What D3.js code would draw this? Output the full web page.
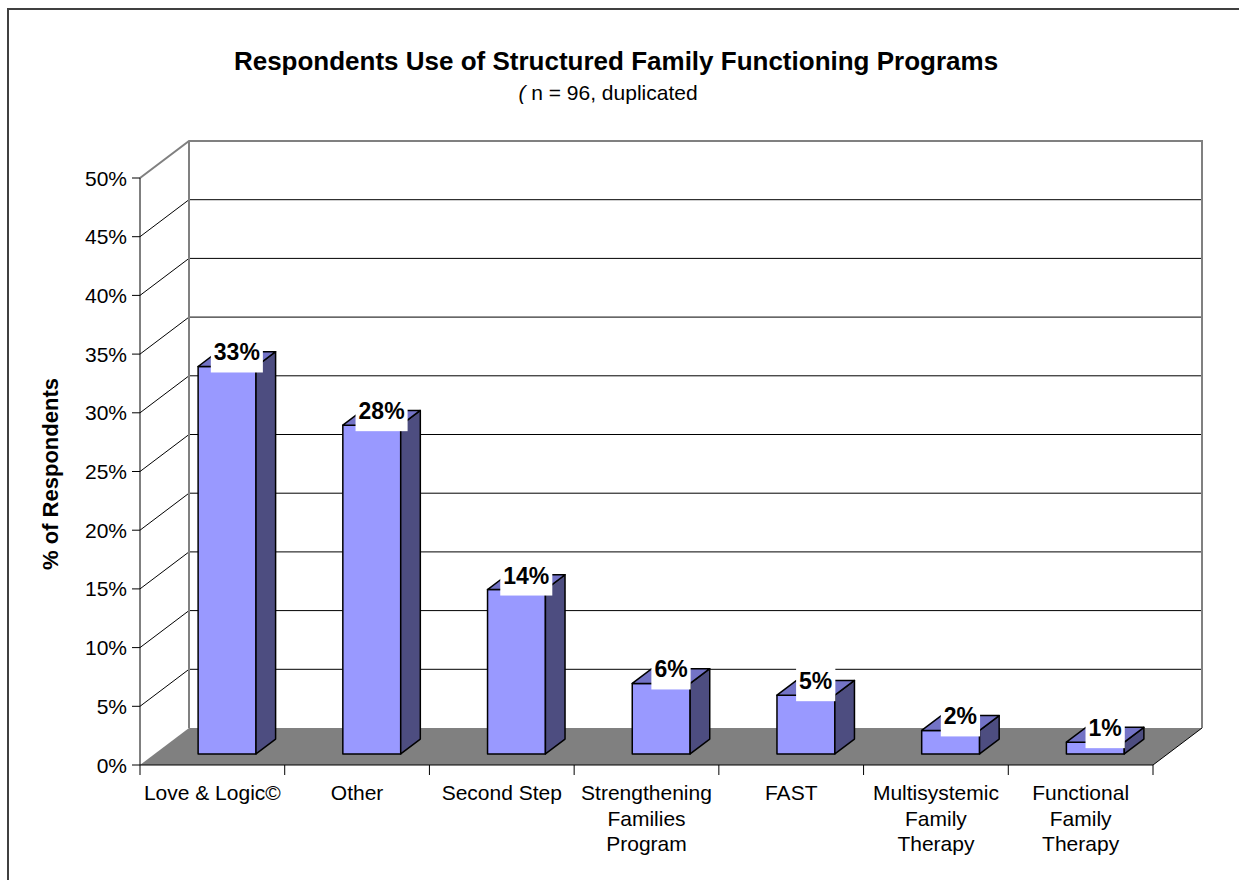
<!DOCTYPE html>
<html lang="en">
<head>
  <meta charset="UTF-8">
  <title>Respondents Use of Structured Family Functioning Programs</title>
  <script src="https://cdn.jsdelivr.net/npm/d3@7"></script>
</head>
<body style="margin:0;background:#fff">
  <style>
    svg { font-family: Arial, "Liberation Sans", sans-serif; }
    .ylab { font-size: 21px; }
    .xlab { font-size: 21px; }
    .val { font-size: 23px; font-weight: bold; }
  </style>
  <svg width="1239" height="880"></svg>
  <script>
    var categories = ["Love & Logic©", "Other", "Second Step", "Strengthening Families Program",
                      "FAST", "Multisystemic Family Therapy", "Functional Family Therapy"];
    var catLines = [["Love & Logic©"], ["Other"], ["Second Step"], ["Strengthening", "Families", "Program"],
                    ["FAST"], ["Multisystemic", "Family", "Therapy"], ["Functional", "Family", "Therapy"]];
    var values = [33, 28, 14, 6, 5, 2, 1];
    var labels = ["33%", "28%", "14%", "6%", "5%", "2%", "1%"];
    var yTicks = [0, 5, 10, 15, 20, 25, 30, 35, 40, 45, 50];

    var svg = d3.select("svg");

    // outer frame (cropped on right and bottom)
    svg.append("rect")
        .attr("x", 8).attr("y", 9)
        .attr("width", 1400).attr("height", 1000)
        .attr("fill", "none").attr("stroke", "#404040").attr("stroke-width", 2);

    // 3d depth offset
    var DX = 49, DY = -37;
    var x = d3.scaleBand().domain(categories).range([140, 1153]).paddingInner(0.6).paddingOuter(0.3);
    var y = d3.scaleLinear().domain([0, 50]).range([765, 178]);
    var x0 = 140, x1 = 1153;

    function p(xv, v, z) { return [xv + DX * z, y(v) + DY * z]; }
    function poly(pts) { return "M" + pts.map(function(d) { return d.join(","); }).join("L") + "Z"; }

    // floor
    svg.append("path")
        .attr("d", poly([p(x0, 0, 0), p(x1, 0, 0), p(x1, 0, 1), p(x0, 0, 1)]))
        .attr("fill", "#808080");
    svg.append("path")
        .attr("d", "M" + p(x0, 0, 0) + "L" + p(x1, 0, 0) + "L" + p(x1, 0, 1))
        .attr("fill", "none").attr("stroke", "#000").attr("stroke-width", 1);

    // gridlines on side + back wall
    var grid = svg.append("g");
    yTicks.filter(function(t) { return t > 0 && t < 50; }).forEach(function(t) {
      grid.append("path")
          .attr("d", "M" + p(x0, t, 0) + "L" + p(x0, t, 1) + "L" + p(x1, t, 1))
          .attr("fill", "none").attr("stroke", "#000").attr("stroke-width", 1);
    });

    // walls edges
    svg.append("path")
        .attr("d", "M" + p(x0, 50, 0) + "L" + p(x0, 50, 1) + "L" + p(x1, 50, 1) + "L" + p(x1, 0, 1))
        .attr("fill", "none").attr("stroke", "#808080").attr("stroke-width", 2);
    svg.append("path")
        .attr("d", "M" + p(x0, 0, 1) + "L" + p(x0, 50, 1))
        .attr("fill", "none").attr("stroke", "#808080").attr("stroke-width", 2);

    // y axis
    svg.append("line")
        .attr("x1", x0).attr("x2", x0).attr("y1", y(0)).attr("y2", y(50))
        .attr("stroke", "#000");
    var ya = svg.append("g");
    yTicks.forEach(function(t) {
      ya.append("line").attr("x1", x0 - 8).attr("x2", x0)
          .attr("y1", y(t)).attr("y2", y(t)).attr("stroke", "#000");
      ya.append("text").attr("class", "ylab")
          .attr("x", x0 - 13).attr("y", y(t)).attr("dy", "0.36em")
          .attr("text-anchor", "end").text(t + "%");
    });

    // x axis ticks + labels
    var step = x.step();
    d3.range(categories.length + 1).forEach(function(i) {
      svg.append("line").attr("x1", x0 + i * step).attr("x2", x0 + i * step)
          .attr("y1", y(0)).attr("y2", y(0) + 10).attr("stroke", "#000");
    });
    categories.forEach(function(c, i) {
      var cx = x(c) + x.bandwidth() / 2;
      var t = svg.append("text").attr("class", "xlab").attr("text-anchor", "middle");
      catLines[i].forEach(function(l, j) {
        t.append("tspan").attr("x", cx).attr("y", 800 + j * 25.5).text(l);
      });
    });

    // bars
    var z0 = 0.3, z1 = 0.7;
    var bars = svg.append("g");
    categories.forEach(function(c, i) {
      var a = x(c), b = x(c) + x.bandwidth(), v = values[i];
      var g = bars.append("g").attr("stroke", "#000").attr("stroke-width", 1.5).attr("stroke-linejoin", "round");
      g.append("path").attr("fill", "#9999FF")
          .attr("d", poly([p(a, 0, z0), p(b, 0, z0), p(b, v, z0), p(a, v, z0)]));
      g.append("path").attr("fill", "#4D4D80")
          .attr("d", poly([p(b, 0, z0), p(b, 0, z1), p(b, v, z1), p(b, v, z0)]));
      g.append("path").attr("fill", "#7373C6")
          .attr("d", poly([p(a, v, z0), p(b, v, z0), p(b, v, z1), p(a, v, z1)]));
    });

    // value labels
    var lab = svg.append("g");
    categories.forEach(function(c, i) {
      var cx = x(c) + x.bandwidth() / 2 + DX * 0.5;
      var base = p(0, values[i], z0)[1] - 6;
      var box = lab.append("rect").attr("fill", "#fff");
      var t = lab.append("text").attr("class", "val")
          .attr("x", cx).attr("y", base).attr("text-anchor", "middle").text(labels[i]);
      var w = t.node().getComputedTextLength();
      box.attr("x", cx - w / 2 - 3).attr("width", w + 6)
          .attr("y", base - 28).attr("height", 40);
    });

    // titles
    svg.append("text")
        .attr("x", 616).attr("y", 70).attr("text-anchor", "middle")
        .style("font-size", "26px").style("font-weight", "bold")
        .text("Respondents Use of Structured Family Functioning Programs");
    var sub = svg.append("text")
        .attr("x", 608).attr("y", 100).attr("text-anchor", "middle")
        .style("font-size", "21px");
    sub.append("tspan").style("font-style", "italic").text("(");
    sub.append("tspan").text(" n = 96, duplicated");

    svg.append("text")
        .attr("transform", "translate(58,474) rotate(-90)")
        .attr("text-anchor", "middle")
        .style("font-size", "22px").style("font-weight", "bold")
        .text("% of Respondents");
  </script>
</body>
</html>
